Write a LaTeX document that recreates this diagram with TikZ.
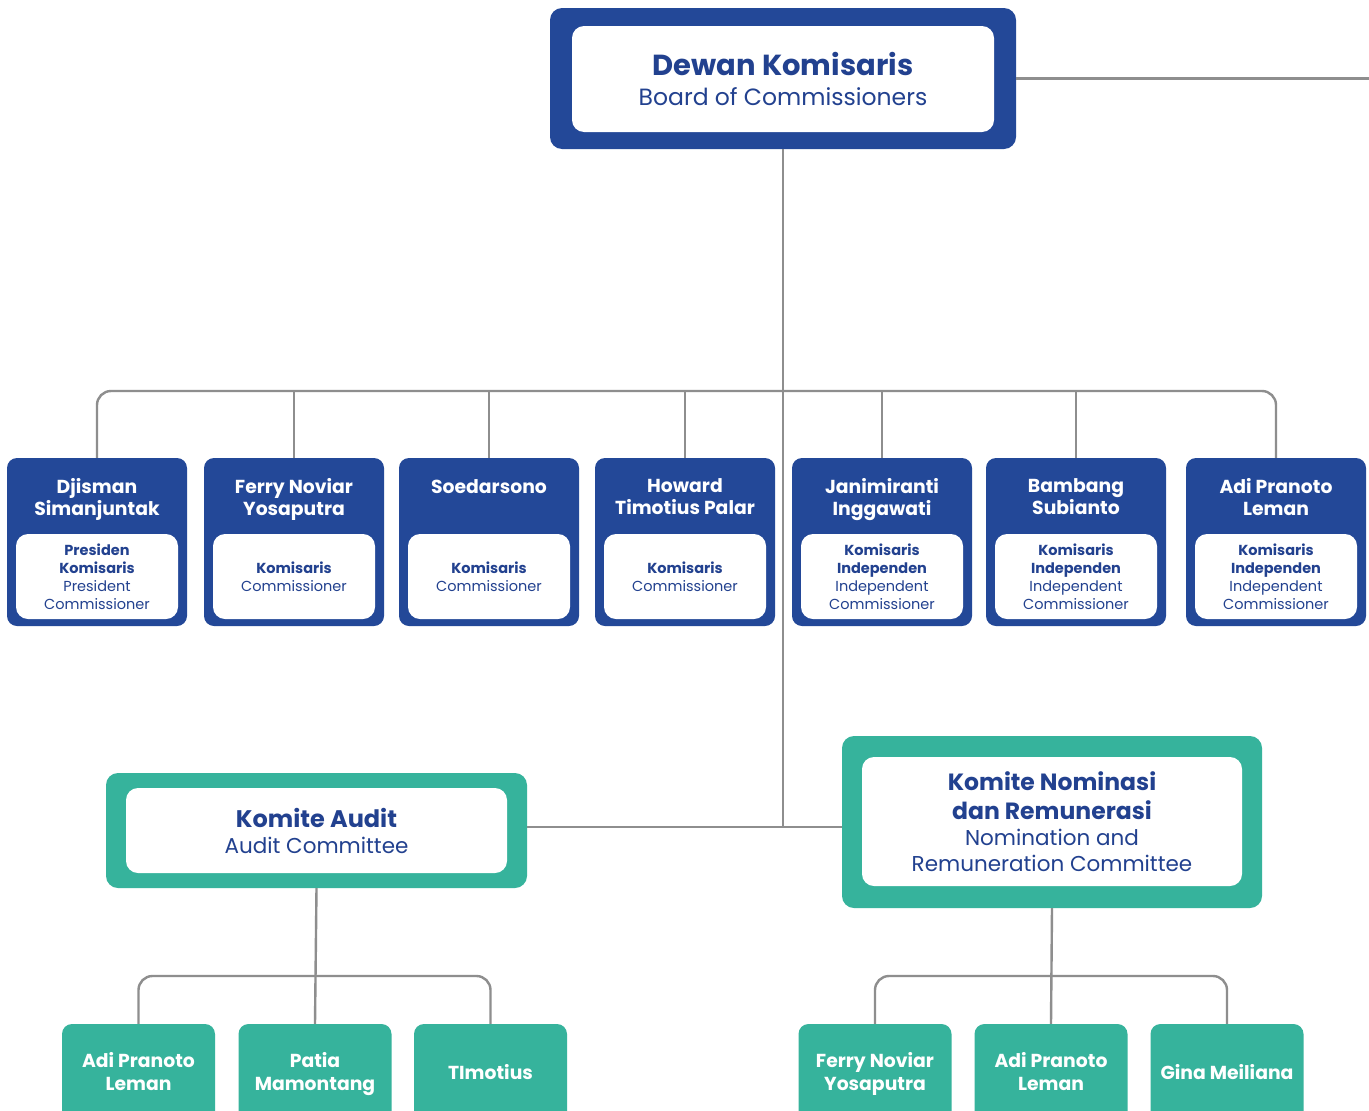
\documentclass[tikz,border=0pt]{standalone}
\usepackage{fontspec}
\setmainfont{Poppins}
\definecolor{boardblue}{HTML}{234898}
\definecolor{textblue}{HTML}{22418F}
\definecolor{teal}{HTML}{36B39C}
\definecolor{linegray}{HTML}{8E8E8E}

% one commissioner card: name on the blue part, role in the white panel
\newcommand\boardmember[4]{%
  \node[memberbox] (#1) at (#2,542) {};
  \node[membername] (#1n) at (#2,478) {#3};
  \node[memberrole] (#1r) at (#2,576.5) {#4};
}
% one committee member card (runs off the lower edge)
\newcommand\cmember[3]{%
  \node[cmemberbox] (#1) at (#2,1095) {};
  \node[cmembername] (#1n) at (#2,1074.5) {#3};
}

\begin{document}
\begin{tikzpicture}[x=1pt,y=-1pt,
  conn/.style={draw=linegray, line width=2.4pt},
  memberbox/.style={fill=boardblue, rounded corners=10pt, inner sep=0pt,
    minimum width=180pt, minimum height=168pt},
  membername/.style={text=white, align=center, inner sep=0pt, anchor=north,
    font=\fontsize{18.8}{22}\selectfont\bfseries,
    execute at begin node=\strut, execute at end node=\strut},
  memberrole/.style={fill=white, rounded corners=12pt, inner sep=0pt,
    minimum width=162pt, minimum height=85pt, text=textblue, align=center,
    font=\fontsize{14.5}{18}\selectfont},
  outerbox/.style={rounded corners=12pt, inner sep=0pt},
  innerbox/.style={fill=white, rounded corners=12pt, inner sep=0pt,
    text=textblue, align=center},
  cmemberbox/.style={fill=teal, rounded corners=10pt, inner sep=0pt,
    minimum width=153pt, minimum height=142pt},
  cmembername/.style={text=white, align=center, inner sep=0pt,
    font=\fontsize{18.8}{23}\selectfont\bfseries,
    execute at begin node=\strut, execute at end node=\strut},
]
\useasboundingbox (0,0) rectangle (1369,1111);
\clip (0,0) rectangle (1369,1111);
\fill[white] (0,0) rectangle (1369,1111);

% Board of Commissioners
\node[outerbox, fill=boardblue, minimum width=466pt, minimum height=141pt] (boc) at (783,78.5) {};
\node[innerbox, minimum width=422pt, minimum height=106pt,
      font=\fontsize{23.5}{29.5}\selectfont] (bocin) at (783,79)
  {{\fontsize{29}{31}\selectfont\bfseries Dewan Komisaris}\\
   Board of Commissioners};
\coordinate (rightend) at (1369,78.5);

% commissioners
\boardmember{m1}{97}{Djisman\\Simanjuntak}{\textbf{Presiden}\\\textbf{Komisaris}\\President\\Commissioner}
\boardmember{m2}{294}{Ferry Noviar\\Yosaputra}{\textbf{Komisaris}\\Commissioner}
\boardmember{m3}{489}{Soedarsono}{\textbf{Komisaris}\\Commissioner}
\boardmember{m4}{685}{Howard\\Timotius Palar}{\textbf{Komisaris}\\Commissioner}
\boardmember{m5}{882}{Janimiranti\\Inggawati}{\textbf{Komisaris}\\\textbf{Independen}\\Independent\\Commissioner}
\boardmember{m6}{1076}{Bambang\\Subianto}{\textbf{Komisaris}\\\textbf{Independen}\\Independent\\Commissioner}
\boardmember{m7}{1276}{Adi Pranoto\\Leman}{\textbf{Komisaris}\\\textbf{Independen}\\Independent\\Commissioner}

% committees
\node[outerbox, fill=teal, minimum width=421pt, minimum height=115pt] (audit) at (316.5,830.5) {};
\node[innerbox, minimum width=381pt, minimum height=85pt,
      font=\fontsize{21.5}{26}\selectfont] (auditin) at (316.5,830.5)
  {{\fontsize{24}{26}\selectfont\bfseries Komite Audit}\\
   Audit Committee};
\node[outerbox, fill=teal, minimum width=420pt, minimum height=172pt] (nom) at (1052,822) {};
\node[innerbox, minimum width=380pt, minimum height=129pt,
      font=\fontsize{21.5}{26}\selectfont] (nomin) at (1052,821.5)
  {{\fontsize{23.5}{29}\selectfont\bfseries Komite Nominasi}\\[3pt]
   {\fontsize{23.5}{29}\selectfont\bfseries dan Remunerasi}\\
   Nomination and\\
   Remuneration Committee};

% committee members
\cmember{a1}{138.5}{Adi Pranoto\\Leman}
\cmember{a2}{315}{Patia\\Mamontang}
\cmember{a3}{490.5}{TImotius}
\cmember{n1}{875}{Ferry Noviar\\Yosaputra}
\cmember{n2}{1051}{Adi Pranoto\\Leman}
\cmember{n3}{1227}{Gina Meiliana}

% connectors
\coordinate (bus) at (783,391);
\coordinate (trunkend) at (783,827);
\coordinate (abus) at (315,976);
\coordinate (nbus) at (1051,976);

\draw[conn] (boc.east) -- (rightend);
\draw[conn] (boc.south) -- (trunkend);
\draw[conn, rounded corners=14pt] (m1.north) |- (bus) -| (m7.north);
\foreach \m in {m2,m3,m4,m5,m6} \draw[conn] (\m.north) -- (\m.north |- bus);
\draw[conn] (audit.east |- trunkend) -- (nom.west |- trunkend);

\draw[conn] (audit.south) -- (a2.north);
\draw[conn, rounded corners=14pt] (a1.north) |- (abus) -| (a3.north);
\draw[conn] (nom.south) -- (n2.north);
\draw[conn, rounded corners=14pt] (n1.north) |- (nbus) -| (n3.north);
\end{tikzpicture}
\end{document}
